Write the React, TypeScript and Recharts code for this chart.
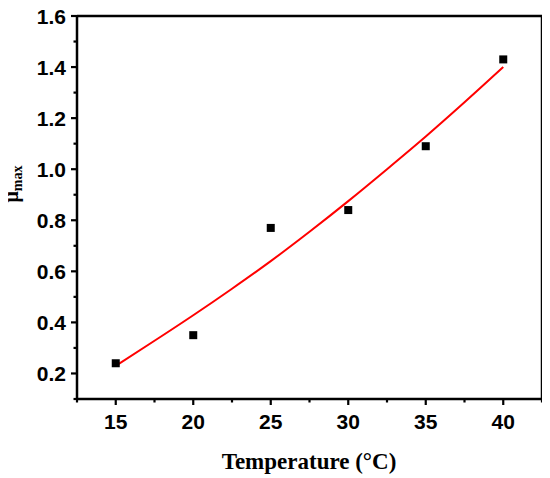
import { ComposedChart, Line, Scatter, XAxis, YAxis, ReferenceLine } from 'recharts'

// measured points (temperature °C, μmax)
const temps = [15, 20, 25, 30, 35, 40]
const muMax = [0.24, 0.35, 0.77, 0.84, 1.09, 1.43]

// fitted curve
const fitTemps = [15, 17.5, 20, 22.5, 25, 27.5, 30, 32.5, 35, 37.5, 40]
const fitMu = [0.23, 0.328, 0.428, 0.532, 0.64, 0.755, 0.875, 1.0, 1.128, 1.262, 1.4]

const xTicks = [12.5, 15, 17.5, 20, 22.5, 25, 27.5, 30, 32.5, 35, 37.5, 40, 42.5]
const xMajor = [15, 20, 25, 30, 35, 40]
const yTicks = [0.1, 0.2, 0.3, 0.4, 0.5, 0.6, 0.7, 0.8, 0.9, 1.0, 1.1, 1.2, 1.3, 1.4, 1.5, 1.6]
const yMajor = [0.2, 0.4, 0.6, 0.8, 1.0, 1.2, 1.4, 1.6]

const points = temps.map((t, i) => ({ t, mu: muMax[i] }))
const fit = fitTemps.map((t, i) => ({ t, mu: fitMu[i] }))

const tickFont = { fontFamily: '"Liberation Sans", Arial, sans-serif', fontWeight: 700, fontSize: 21 }
const titleFont = '"Liberation Serif", "Times New Roman", serif'

function XTick(props: any) {
  const { x, y, payload } = props
  const axisY = y - 9
  const major = xMajor.includes(payload.value)
  return (
    <g>
      <line x1={x} x2={x} y1={axisY} y2={axisY + (major ? 6 : 3.5)} stroke="#000" strokeWidth={2.2} />
      {major && (
        <text x={x} y={axisY + 30} textAnchor="middle" fill="#000" style={tickFont}>
          {payload.value}
        </text>
      )}
    </g>
  )
}

function YTick(props: any) {
  const { x, y, payload } = props
  const axisX = x + 9
  const major = yMajor.some((v) => Math.abs(v - payload.value) < 1e-6)
  return (
    <g>
      <line x1={axisX} x2={axisX - (major ? 6 : 3.5)} y1={y} y2={y} stroke="#000" strokeWidth={2.2} />
      {major && (
        <text x={axisX - 11} y={y + 7.5} textAnchor="end" fill="#000" style={tickFont}>
          {payload.value.toFixed(1)}
        </text>
      )}
    </g>
  )
}

function Square(props: any) {
  const { cx, cy } = props
  return <rect x={cx - 4} y={cy - 4} width={8} height={8} fill="#000" />
}

export default function App() {
  return (
    <div style={{ marginLeft: -8, marginTop: -8 }}>
      <ComposedChart width={550} height={478} margin={{ top: 16, right: 8, bottom: 0, left: 0 }}>
        <XAxis
          dataKey="t"
          type="number"
          domain={[12.5, 42.5]}
          ticks={xTicks}
          interval={0}
          height={79}
          tickSize={6}
          tickMargin={3}
          tickLine={false}
          axisLine={false}
          tick={<XTick />}
          label={{
            content: () => (
              <text
                x={309}
                y={469}
                textAnchor="middle"
                fill="#000"
                style={{ fontFamily: titleFont, fontWeight: 700, fontSize: 23 }}
              >
                Temperature (°C)
              </text>
            ),
          }}
        />
        <YAxis
          type="number"
          domain={[0.1, 1.6]}
          ticks={yTicks}
          interval={0}
          width={77}
          tickSize={6}
          tickMargin={3}
          tickLine={false}
          axisLine={false}
          tick={<YTick />}
          label={{
            content: () => (
              <text
                transform="translate(18,184) rotate(-90)"
                textAnchor="middle"
                fill="#000"
                style={{ fontFamily: titleFont, fontWeight: 700, fontSize: 20 }}
              >
                μ<tspan fontSize={14} dy={4}>max</tspan>
              </text>
            ),
          }}
        />
        {/* frame: left/bottom axes plus the closed top/right edges */}
        <ReferenceLine y={0.1} stroke="#000" strokeWidth={2.5} ifOverflow="visible" />
        <ReferenceLine x={12.5} stroke="#000" strokeWidth={2.5} ifOverflow="visible" />
        <ReferenceLine y={1.6} stroke="#000" strokeWidth={2.5} ifOverflow="visible" />
        <ReferenceLine x={42.5} stroke="#000" strokeWidth={2.5} ifOverflow="visible" />
        <Line
          data={fit}
          dataKey="mu"
          type="monotone"
          stroke="#ff0000"
          strokeWidth={2}
          dot={false}
          activeDot={false}
          isAnimationActive={false}
        />
        <Scatter data={points} dataKey="mu" fill="#000" shape={<Square />} isAnimationActive={false} />
      </ComposedChart>
    </div>
  )
}
